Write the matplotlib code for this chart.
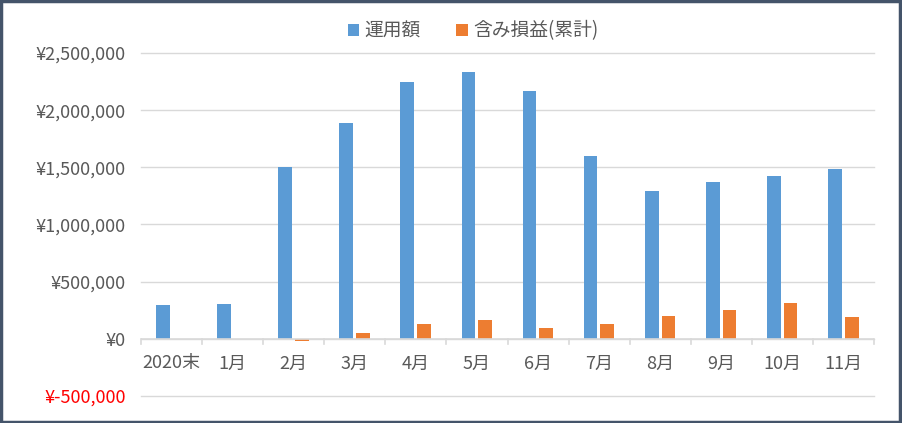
import matplotlib.pyplot as plt
import numpy as np
from matplotlib.patches import Rectangle

plt.rcParams['font.family'] = ['Noto Sans CJK JP', 'DejaVu Sans']

categories = ['2020末', '1月', '2月', '3月', '4月', '5月', '6月', '7月', '8月', '9月', '10月', '11月']
amount = [297000, 306000, 1503000, 1888000, 2246000, 2334000, 2168000,
          1600000, 1294000, 1372000, 1425000, 1486000]
gain = [0, 0, -17000, 52000, 131000, 166000, 96000, 131000, 201000, 253000, 315000, 192000]
yticks = [-500000, 0, 500000, 1000000, 1500000, 2000000, 2500000]

BLUE = '#5B9BD5'
ORANGE = '#ED7D31'
GRID = '#D9D9D9'
TEXT = '#595959'

fig = plt.figure(figsize=(9.02, 4.23), dpi=100)
ax = fig.add_axes([141 / 902, 27 / 423, 733 / 902, 343 / 423])

x = np.arange(len(categories))
w = 0.225
ax.bar(x - 0.14, amount, width=w, color=BLUE, label='運用額', zorder=3)
ax.bar(x + 0.135, gain, width=w, color=ORANGE, label='含み損益(累計)', zorder=3)

ax.set_xlim(-0.5, len(categories) - 0.5)
ax.set_ylim(-500000, 2500000)
ax.set_yticks(yticks)
ax.set_yticklabels(['¥{:,}'.format(v) if v >= 0 else '¥-{:,}'.format(-v) for v in yticks])
for lbl, v in zip(ax.get_yticklabels(), yticks):
    lbl.set_color('#FF0000' if v < 0 else TEXT)
ax.tick_params(axis='y', length=0, labelsize=13, pad=11)
ax.grid(axis='y', color=GRID, linewidth=1, zorder=0)
for gl in ax.get_ygridlines():
    gl.set_clip_on(False)

for s in ax.spines.values():
    s.set_visible(False)
ax.axhline(0, color=GRID, linewidth=1.2, zorder=4)

# category labels and boundary ticks on the zero line
ax.set_xticks([])
for i, c in enumerate(categories):
    ax.text(i, -215000, c, ha='center', va='center', fontsize=13, color=TEXT)
for b in np.arange(-0.5, len(categories), 1.0):
    ax.plot([b, b], [0, -45000], color=GRID, linewidth=1.2, zorder=4, clip_on=False)

fig.legend(loc='center', bbox_to_anchor=(473 / 902, 1 - 31 / 423), ncol=2, frameon=False,
           fontsize=13.5, handlelength=0.6, handleheight=0.6, handletextpad=0.3,
           columnspacing=1.9, labelcolor=TEXT)

fig.patches.append(Rectangle((0.001, 0.002), 0.997, 0.995, transform=fig.transFigure,
                             fill=False, edgecolor='#44546A', linewidth=2.5))

fig.savefig('out.png', dpi=100, facecolor='white')
